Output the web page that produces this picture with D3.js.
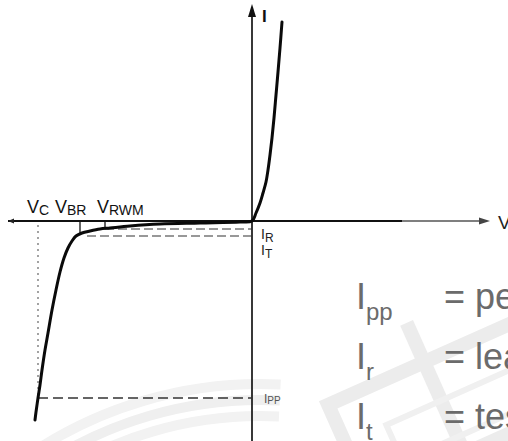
<!DOCTYPE html>
<html>
<head>
<meta charset="utf-8">
<script src="https://cdn.jsdelivr.net/npm/d3@7/dist/d3.min.js"></script>
<style>
  html, body { margin: 0; padding: 0; background: #fff; overflow: hidden; }
  svg { display: block; font-family: "Liberation Sans", Arial, sans-serif; }
</style>
</head>
<body>
<script>
// I-V characteristic of a TVS diode
// (V and I in arbitrary units, origin where the axes cross)
const curveV = [-21.7, -21.6, -21.4, -21.2, -21.0, -20.7, -20.4, -20.0, -19.6, -19.2, -18.8, -18.4,
                -18.0, -17.6, -17.0, -16.2, -15.2, -14.2, -12.2, -9.2, -5.2, -1.2, 0,
                0.4, 0.8, 1.1, 1.4, 1.6, 1.8, 2.0, 2.2, 2.4, 2.6, 2.8, 3.0];
const curveI = [-19.9, -19.1, -17.7, -16.4, -14.9, -12.9, -11.2, -8.9, -6.9, -5.1, -3.7, -2.7,
                -2.0, -1.5, -1.2, -1.0, -0.8, -0.7, -0.5, -0.3, -0.2, -0.1, 0,
                0.8, 1.8, 2.8, 3.9, 5.1, 6.6, 8.3, 10.3, 12.6, 14.9, 17.3, 19.9];

// voltage markers on the V axis
const markerSubs = ["C", "BR", "RWM"];
const markerV = [-21.4, -17.2, -14.7];
const markerI = [-17.7, -1.2, -0.8];

// current levels (dashed lines to the I axis)
const levelSubs = ["R", "T"];
const levelI = [-0.8, -1.5];
const levelFromV = [-14.7, -16.5];
const ippI = -17.7;

// legend on the right
const legendSubs = ["pp", "r", "t"];
const legendTexts = ["= peak pulse current", "= leakage current", "= test current"];

const width = 508, height = 441;
const x = d3.scaleLinear().domain([-25, 25]).range([2, 502]);
const y = d3.scaleLinear().domain([-22, 22]).range([441, 1]);
const vAxis = [-24.4, 23.8];
const iAxis = [-22, 21.7];

const svg = d3.select('body').append('svg')
    .attr('width', width)
    .attr('height', height);

// faint watermark in the background
const wm = svg.append('g').attr('fill', 'none').attr('stroke', '#ececec');
const arc = d3.arc();
[412, 396, 380].forEach((r, i) => {
    wm.append('path')
        .attr('transform', 'translate(260,796)')
        .attr('d', arc({innerRadius: r - 5, outerRadius: r + 5, startAngle: -0.62, endAngle: 0.05}))
        .attr('fill', i === 1 ? '#efefef' : '#f2f2f2')
        .attr('stroke', 'none');
});
const frame = wm.append('g').attr('transform', 'translate(430,400) rotate(-24)');
frame.append('rect').attr('x', -95).attr('y', -37).attr('width', 230).attr('height', 100)
    .attr('stroke-width', 14);
frame.append('rect').attr('x', 3).attr('y', -80).attr('width', 14).attr('height', 150)
    .attr('fill', '#ececec').attr('stroke', 'none');
frame.append('rect').attr('x', -50).attr('y', 5).attr('width', 150).attr('height', 40)
    .attr('stroke-width', 6).attr('stroke', '#f0f0f0');

// axes
const x0 = x(0), y0 = y(0);
svg.append('line')
    .attr('x1', x(vAxis[0])).attr('x2', x(15)).attr('y1', y0).attr('y2', y0)
    .attr('stroke', '#111').attr('stroke-width', 2.2);
svg.append('line')
    .attr('x1', x(15)).attr('x2', x(vAxis[1]) - 6).attr('y1', y0).attr('y2', y0)
    .attr('stroke', '#555').attr('stroke-width', 1.4);
svg.append('path')
    .attr('d', `M${x(vAxis[1])},${y0} l-11,-3.5 l0,7 z`)
    .attr('fill', '#444');
svg.append('path')
    .attr('d', `M${x(vAxis[0])},${y0} l6,-2.5 l0,5 z`)
    .attr('fill', '#222');
svg.append('line')
    .attr('x1', x0).attr('x2', x0).attr('y1', y(iAxis[1]) + 8).attr('y2', y(iAxis[0]))
    .attr('stroke', '#222').attr('stroke-width', 1.8);
svg.append('path')
    .attr('d', `M${x0},${y(iAxis[1])} l-4,13 l8,0 z`)
    .attr('fill', '#111');

// axis names
svg.append('text').attr('x', x0 + 10).attr('y', 22)
    .attr('font-size', 17).attr('font-weight', 'bold').attr('fill', '#111').text('I');
svg.append('text').attr('x', x(vAxis[1]) + 8).attr('y', y0 + 8)
    .attr('font-size', 19).attr('fill', '#222').text('V');

// dashed guide lines
svg.append('line')
    .attr('x1', x(markerV[0])).attr('x2', x(markerV[0]))
    .attr('y1', y0 + 4).attr('y2', y(ippI))
    .attr('stroke', '#666').attr('stroke-width', 1.2).attr('stroke-dasharray', '2,4');
svg.append('line')
    .attr('x1', x(markerV[0])).attr('x2', x0)
    .attr('y1', y(ippI)).attr('y2', y(ippI))
    .attr('stroke', '#333').attr('stroke-width', 1.3).attr('stroke-dasharray', '10,5');
levelI.forEach((v, i) => {
    svg.append('line')
        .attr('x1', x(levelFromV[i])).attr('x2', x0)
        .attr('y1', y(v)).attr('y2', y(v))
        .attr('stroke', '#333').attr('stroke-width', 1.1).attr('stroke-dasharray', '9,4');
});

// short ticks at V_BR and V_RWM
[1, 2].forEach(i => {
    svg.append('line')
        .attr('x1', x(markerV[i])).attr('x2', x(markerV[i]))
        .attr('y1', y0).attr('y2', y(markerI[i]))
        .attr('stroke', '#111').attr('stroke-width', 1.3);
});

// the characteristic
const pts = curveV.map((v, i) => [v, curveI[i]]);
const line = d3.line()
    .x(d => x(d[0]))
    .y(d => y(d[1]))
    .curve(d3.curveCatmullRom.alpha(0.5));
svg.append('path')
    .datum(pts)
    .attr('d', line)
    .attr('fill', 'none')
    .attr('stroke', '#0a0a0a')
    .attr('stroke-width', 3)
    .attr('stroke-linejoin', 'round')
    .attr('stroke-linecap', 'round');

// voltage labels
const markerX = [27, 55, 97];
markerSubs.forEach((s, i) => {
    const t = svg.append('text').attr('x', markerX[i]).attr('y', 213).attr('fill', '#111');
    t.append('tspan').attr('font-size', 18).text('V');
    t.append('tspan').attr('font-size', 14).attr('dy', 2).text(s);
});

// current labels next to the I axis
const levelY = [239, 255];
levelSubs.forEach((s, i) => {
    const t = svg.append('text').attr('x', x0 + 9).attr('y', levelY[i]).attr('fill', '#222');
    t.append('tspan').attr('font-size', 14).text('I');
    t.append('tspan').attr('font-size', 12).attr('dy', 3).text(s);
});
const tp = svg.append('text').attr('x', x0 + 12).attr('y', y(ippI) + 5).attr('fill', '#555');
tp.append('tspan').attr('font-size', 12).text('I');
tp.append('tspan').attr('font-size', 10).attr('dy', 1).text('PP');

// legend
const legendY = [309, 369, 429];
legendSubs.forEach((s, i) => {
    const t = svg.append('text').attr('x', 356).attr('y', legendY[i]).attr('fill', '#6b6b6b');
    t.append('tspan').attr('font-size', 36).text('I');
    t.append('tspan').attr('font-size', 24).attr('dy', 11).text(s);
    svg.append('text').attr('x', 444).attr('y', legendY[i])
        .attr('font-size', 36).attr('fill', '#6b6b6b').text(legendTexts[i]);
});
</script>
</body>
</html>
